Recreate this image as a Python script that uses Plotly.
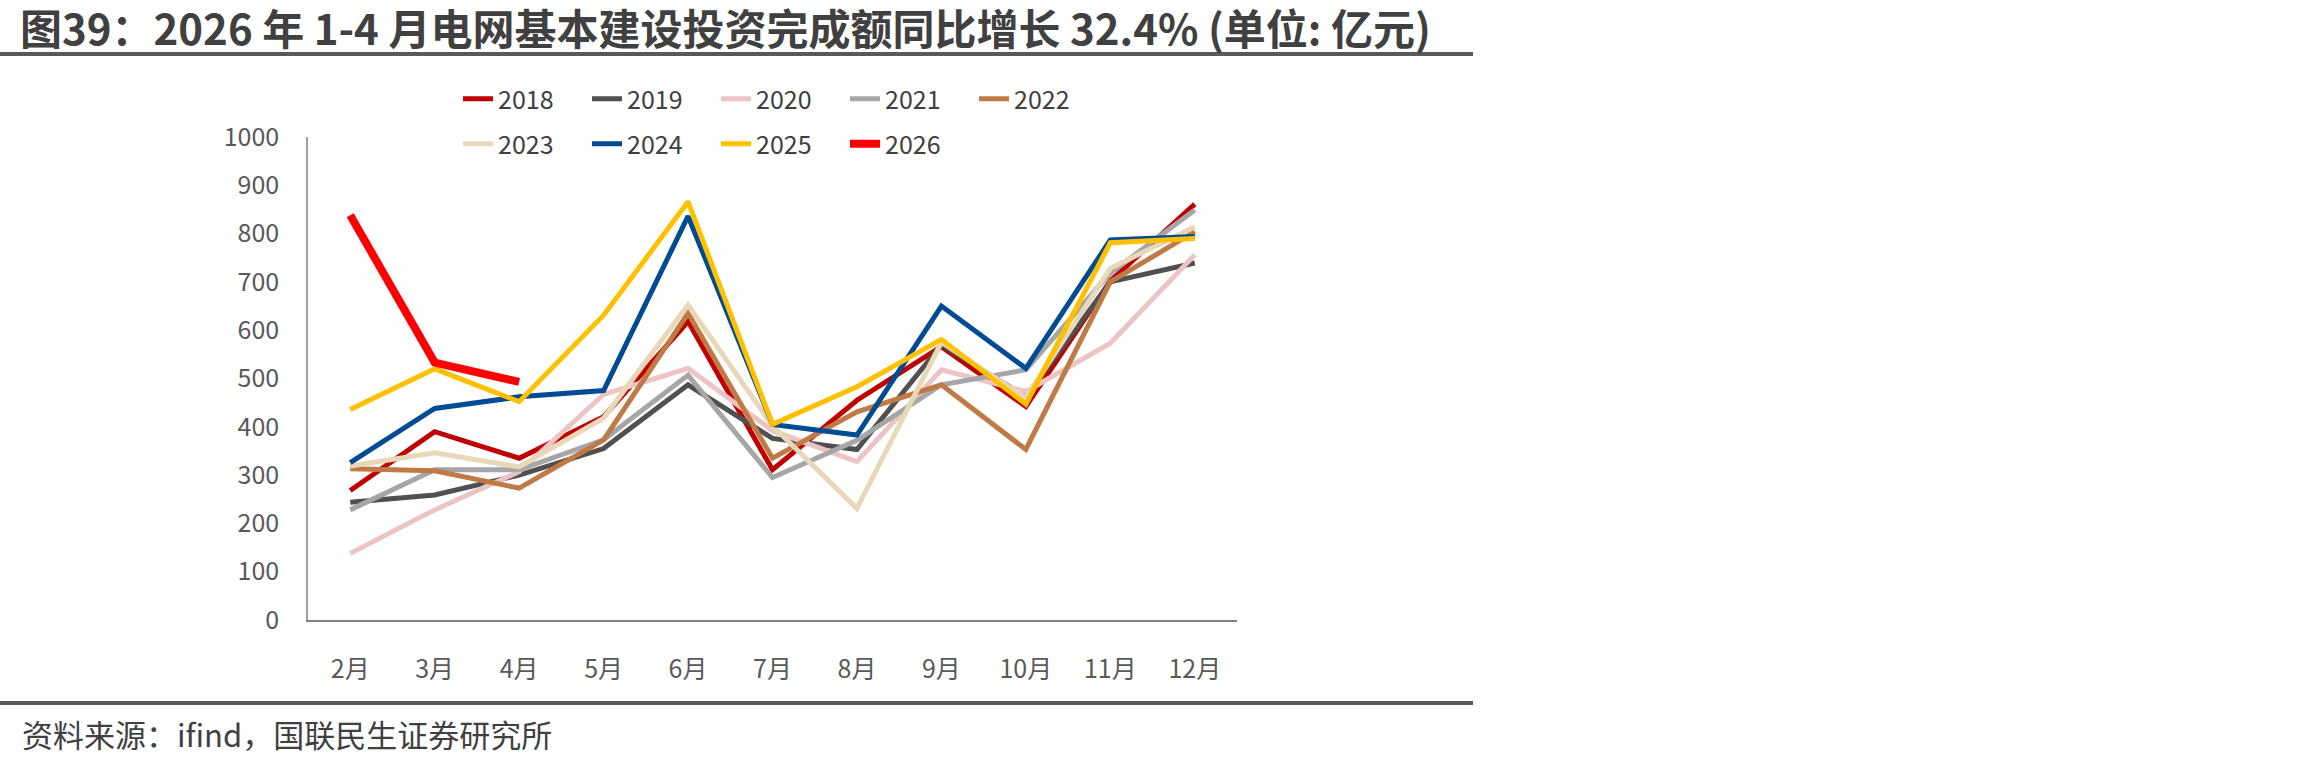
import plotly.graph_objects as go

W, H = 2310, 765
ML, MR, MT, MB = 308, 2310 - 1237, 137, 765 - 620

months = ["2月", "3月", "4月", "5月", "6月", "7月", "8月", "9月", "10月", "11月", "12月"]
years = ["2018", "2019", "2020", "2021", "2022", "2023", "2024", "2025", "2026"]

y2018 = [268, 390, 335, 421, 618, 311, 455, 566, 442, 702, 861]
y2019 = [244, 259, 300, 355, 487, 376, 353, 570, 462, 700, 739]
y2020 = [138, 228, 307, 467, 521, 392, 328, 518, 473, 573, 756]
y2021 = [228, 311, 311, 373, 507, 295, 372, 487, 518, 718, 849]
y2022 = [313, 309, 273, 373, 635, 335, 431, 487, 353, 700, 804]
y2023 = [319, 346, 317, 418, 652, 402, 231, 575, 460, 728, 814]
y2024 = [326, 438, 462, 475, 836, 405, 383, 650, 521, 787, 794]
y2025 = [436, 520, 452, 631, 866, 405, 483, 581, 447, 781, 790]
y2026 = [838, 533, 493]

series = [y2018, y2019, y2020, y2021, y2022, y2023, y2024, y2025, y2026]
colors = ["#C00000", "#505050", "#EDC4C4", "#A6A6A6", "#BF7A45",
          "#E8D8B8", "#004B93", "#FFC000", "#FF0000"]
widths = [5, 5, 5, 5, 5, 5, 5, 5, 8]

FONT = "Noto Sans CJK SC"

fig = go.Figure()
for i, (yr, vals) in enumerate(zip(years, series)):
    fig.add_trace(go.Scatter(
        x=months[:len(vals)], y=vals, mode="lines", name=yr,
        line=dict(color=colors[i], width=widths[i]),
        legend="legend" if i < 5 else "legend2",
    ))

pw = W - ML - MR
ph = H - MT - MB


def px2paper_x(px):
    return (px - ML) / pw


def px2paper_y(py):
    return (H - MB - py) / ph


legend_common = dict(
    orientation="h", xref="container", yref="container",
    xanchor="left", yanchor="middle",
    font=dict(family=FONT, size=25, color="#404040"),
    entrywidth=84, entrywidthmode="pixels", itemwidth=30,
    tracegroupgap=0, bgcolor="rgba(0,0,0,0)",
)

fig.update_layout(
    width=W, height=H,
    margin=dict(l=ML, r=MR, t=MT, b=MB, pad=0, autoexpand=False),
    paper_bgcolor="white", plot_bgcolor="white",
    font=dict(family=FONT, color="#595959"),
    showlegend=True,
    legend=dict(x=458 / W, y=1 - 99 / H, **legend_common),
    legend2=dict(x=458 / W, y=1 - 144 / H, **legend_common),
    title=dict(
        text="<b>图39：2026 年 1-4 月电网基本建设投资完成额同比增长 32.4% (单位: 亿元)</b>",
        xref="container", yref="container", x=20 / W, y=1 - 30 / H,
        xanchor="left", yanchor="middle",
        font=dict(family=FONT, size=42, color="#404040"),
    ),
    xaxis=dict(
        type="category", range=[-0.5, 10.5], showgrid=False,
        showline=True, linecolor="#808080", linewidth=2,
        ticks="", tickfont=dict(family=FONT, size=25, color="#595959"),
        ticklabelstandoff=26, zeroline=False,
    ),
    yaxis=dict(
        range=[0, 1000], dtick=100, showgrid=False,
        showline=True, linecolor="#A0A0A0", linewidth=1.5,
        ticks="", tickfont=dict(family=FONT, size=25, color="#595959"),
        ticklabelstandoff=22, zeroline=False,
    ),
    shapes=[
        dict(type="line", xref="paper", yref="paper",
             x0=px2paper_x(0), x1=px2paper_x(1473),
             y0=px2paper_y(54), y1=px2paper_y(54),
             line=dict(color="#595959", width=4)),
        dict(type="line", xref="paper", yref="paper",
             x0=px2paper_x(0), x1=px2paper_x(1473),
             y0=px2paper_y(703), y1=px2paper_y(703),
             line=dict(color="#595959", width=4)),
    ],
    annotations=[
        dict(text="资料来源：ifind，国联民生证券研究所",
             xref="paper", yref="paper",
             x=px2paper_x(20), y=px2paper_y(733),
             xanchor="left", yanchor="middle", showarrow=False,
             font=dict(family=FONT, size=31, color="#404040")),
    ],
)

fig.write_html("out.html")
